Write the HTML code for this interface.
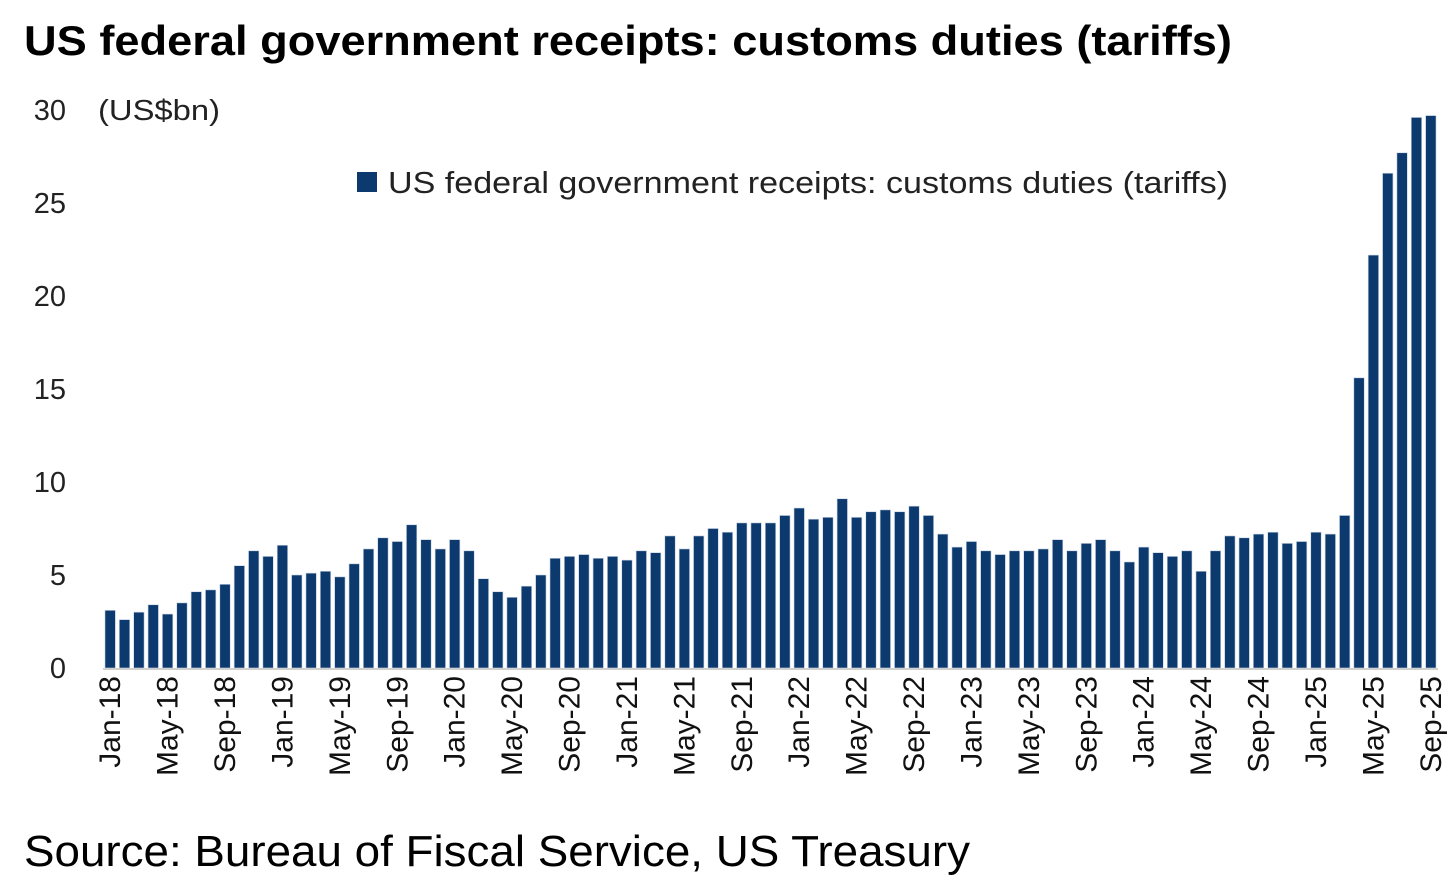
<!DOCTYPE html>
<html><head><meta charset="utf-8"><style>
body{margin:0;background:#fff;width:1456px;height:883px;overflow:hidden;font-family:"Liberation Sans","DejaVu Sans",sans-serif;}
</style></head><body>
<svg id="chart" width="1456" height="883" xmlns="http://www.w3.org/2000/svg">
<text x="24" y="55" font-size="42" font-weight="bold" fill="#000" textLength="1208" lengthAdjust="spacingAndGlyphs">US federal government receipts: customs duties (tariffs)</text>
<text x="98" y="120" font-size="29" fill="#222" textLength="122" lengthAdjust="spacingAndGlyphs">(US$bn)</text>
<rect x="357" y="172" width="20" height="20" fill="#0d3a6e"/>
<text x="388" y="193" font-size="31" fill="#222" textLength="840" lengthAdjust="spacingAndGlyphs">US federal government receipts: customs duties (tariffs)</text>
<g id="bars"></g><g id="yticks"></g><g id="xticks"></g>
<line x1="103" y1="669" x2="1438" y2="669" stroke="#d0d0d0" stroke-width="2"/>
<text x="24" y="866" font-size="44" fill="#000" textLength="946" lengthAdjust="spacingAndGlyphs">Source: Bureau of Fiscal Service, US Treasury</text>
</svg>
<script>
const values = [
3.1,2.6,3.0,3.4,2.9,3.5,4.1,4.2,4.5,5.5,6.3,6.0,
6.6,5.0,5.1,5.2,4.9,5.6,6.4,7.0,6.8,7.7,6.9,6.4,
6.9,6.3,4.8,4.1,3.8,4.4,5.0,5.9,6.0,6.1,5.9,6.0,
5.8,6.3,6.2,7.1,6.4,7.1,7.5,7.3,7.8,7.8,7.8,8.2,
8.6,8.0,8.1,9.1,8.1,8.4,8.5,8.4,8.7,8.2,7.2,6.5,
6.8,6.3,6.1,6.3,6.3,6.4,6.9,6.3,6.7,6.9,6.3,5.7,
6.5,6.2,6.0,6.3,5.2,6.3,7.1,7.0,7.2,7.3,6.7,6.8,
7.3,7.2,8.2,15.6,22.2,26.6,27.7,29.6,29.7];
const monthNames = ["Jan","Feb","Mar","Apr","May","Jun","Jul","Aug","Sep","Oct","Nov","Dec"];
const yTicks = [0,5,10,15,20,25,30];
const startYear = 18;
const NS="http://www.w3.org/2000/svg";
const x0=103, x1=1438, y0=668, yTop=110, yMax=30;
const step=(x1-x0)/values.length;
const xPos=i=>x0+step*(i+0.5);
const yPos=v=>y0-(v/yMax)*(y0-yTop);
const bars=document.getElementById('bars');
values.forEach((v,i)=>{
 const r=document.createElementNS(NS,'rect');
 
 
 r.setAttribute('x',xPos(i)-5.2);r.setAttribute('width',10.4);
 r.setAttribute('y',yPos(v));r.setAttribute('height',y0-yPos(v));
 r.setAttribute('fill','#0d3a6e');r.setAttribute('stroke','#c8d4e4');r.setAttribute('stroke-width','0.6');
 bars.appendChild(r);
});
const yt=document.getElementById('yticks');
yTicks.forEach(t=>{
 const tx=document.createElementNS(NS,'text');
 
 
 tx.setAttribute('x',66);tx.setAttribute('y',yPos(t)+10);tx.setAttribute('text-anchor','end');
 tx.setAttribute('font-size','29');tx.setAttribute('fill','#222');tx.textContent=t;
 yt.appendChild(tx);
});
const xt=document.getElementById('xticks');
values.forEach((v,i)=>{
 if(i%4!==0) return;
 const lbl=monthNames[i%12]+'-'+(startYear+Math.floor(i/12));
 const tx=document.createElementNS(NS,'text');
 
 
 const x=xPos(i)+10;
 tx.setAttribute('transform','translate('+x+',676) rotate(-90)');
 tx.setAttribute('text-anchor','end');tx.setAttribute('font-size','30');tx.setAttribute('fill','#111');
 tx.textContent=lbl;xt.appendChild(tx);
});
</script>
</body></html>
